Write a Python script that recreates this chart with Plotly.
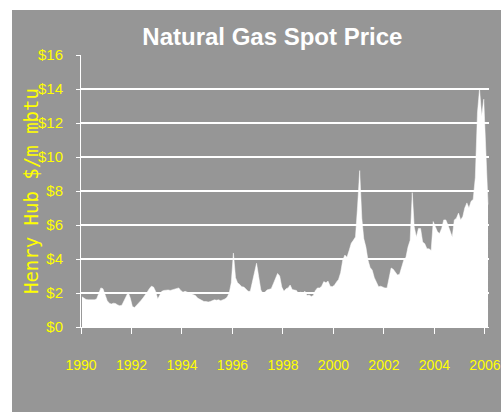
import plotly.graph_objects as go

# Monthly Henry Hub spot price ($/mmbtu), Jan 1990 - Feb 2006
p1990 = [1.78, 1.70, 1.62, 1.60, 1.60, 1.62, 1.60, 1.65, 1.95, 2.30, 2.25, 1.90]
p1991 = [1.55, 1.40, 1.35, 1.40, 1.38, 1.30, 1.25, 1.28, 1.55, 1.85, 2.05, 1.70]
p1992 = [1.20, 1.15, 1.30, 1.40, 1.55, 1.70, 1.85, 2.05, 2.25, 2.40, 2.35, 2.10]
p1993 = [1.65, 1.85, 2.10, 2.15, 2.18, 2.18, 2.15, 2.18, 2.20, 2.25, 2.30, 2.15]
p1994 = [2.05, 2.10, 2.05, 2.00, 1.95, 1.90, 1.85, 1.70, 1.62, 1.55, 1.50, 1.50]
p1995 = [1.47, 1.50, 1.55, 1.60, 1.58, 1.60, 1.55, 1.60, 1.65, 1.75, 2.00, 2.60]
p1996 = [4.35, 2.90, 2.60, 2.50, 2.37, 2.35, 2.20, 2.10, 2.10, 2.60, 3.30, 3.75]
p1997 = [2.96, 2.18, 2.00, 2.05, 2.18, 2.20, 2.25, 2.55, 2.90, 3.15, 3.00, 2.35]
p1998 = [2.10, 2.25, 2.30, 2.47, 2.20, 2.18, 2.15, 1.95, 2.05, 2.00, 2.10, 1.85]
p1999 = [1.88, 1.80, 1.85, 2.15, 2.30, 2.30, 2.40, 2.67, 2.60, 2.70, 2.40, 2.37]
p2000 = [2.45, 2.65, 2.80, 3.20, 3.94, 4.23, 4.10, 4.50, 4.93, 5.10, 5.30, 7.07]
p2001 = [9.20, 6.40, 5.20, 4.70, 3.94, 3.50, 3.35, 2.90, 2.60, 2.37, 2.40, 2.35]
p2002 = [2.30, 2.30, 2.90, 3.47, 3.40, 3.20, 3.06, 3.10, 3.50, 3.94, 4.10, 4.70]
p2003 = [5.10, 7.90, 5.90, 5.30, 5.80, 5.80, 5.00, 4.90, 4.60, 4.60, 4.50, 6.20]
p2004 = [5.90, 5.60, 5.50, 5.80, 6.30, 6.30, 6.00, 5.60, 5.30, 6.30, 6.40, 6.70]
p2005 = [6.30, 6.50, 7.00, 7.30, 7.00, 7.40, 7.50, 8.80, 12.60, 14.00, 12.40, 13.40]
p2006 = [10.00, 7.20]

years = list(range(1990, 2007))
yearly = [p1990, p1991, p1992, p1993, p1994, p1995, p1996, p1997, p1998,
          p1999, p2000, p2001, p2002, p2003, p2004, p2005, p2006]

dates, prices = [], []
for yr, vals in zip(years, yearly):
    for m, v in enumerate(vals, start=1):
        dates.append(f"{yr}-{m:02d}-15")
        prices.append(v)

y_ticks = list(range(0, 17, 2))
y_labels = [f"${v}" for v in y_ticks]
x_ticks = [f"{y}-01-01" for y in range(1990, 2007, 2)]
x_labels = [str(y) for y in range(1990, 2007, 2)]

GRAY = "#969696"
YELLOW = "#FFFF00"
SANS = "Liberation Sans, Arial, sans-serif"

fig = go.Figure()
fig.add_trace(go.Scatter(
    x=dates, y=prices, mode="lines", fill="tozeroy",
    line=dict(color="white", width=0.5), fillcolor="white",
    hoverinfo="x+y", showlegend=False,
))

fig.update_layout(
    width=501, height=412,
    margin=dict(l=81, r=12, t=55, b=85, autoexpand=False),
    paper_bgcolor="white",
    plot_bgcolor="rgba(0,0,0,0)",
    title=dict(text="<b>Natural Gas Spot Price</b>", x=0.469, xref="paper",
               xanchor="center", y=1 - 37 / 412, yanchor="middle",
               font=dict(family=SANS, size=24, color="white")),
    shapes=[dict(type="rect", xref="paper", yref="paper",
                 x0=-0.1691, x1=1.1, y0=-0.4, y1=1.1654,
                 fillcolor=GRAY, line=dict(width=0), layer="below")],
    annotations=[dict(text="Henry Hub $/m mbtu", textangle=-90,
                      xref="paper", yref="paper", x=-0.1225, y=0.5,
                      xanchor="center", yanchor="middle", showarrow=False,
                      font=dict(family="DejaVu Sans Mono", size=19, color=YELLOW))],
    xaxis=dict(
        type="date", range=["1990-01-01", "2006-03-01"],
        tickvals=x_ticks, ticktext=x_labels,
        showgrid=False, zeroline=False, automargin=False,
        showline=True, linecolor="white", linewidth=1,
        ticks="outside", ticklen=6, tickcolor="white", tickwidth=1,
        ticklabelstandoff=19, ticklabeloverflow="allow",
        tickfont=dict(family=SANS, size=14, color=YELLOW),
    ),
    yaxis=dict(
        range=[0, 16], tickvals=y_ticks, ticktext=y_labels,
        showgrid=True, gridcolor="white", gridwidth=2,
        zeroline=False, showline=True, linecolor="white", linewidth=1,
        automargin=False,
        ticks="outside", ticklen=4, tickcolor="white", tickwidth=1,
        ticklabelstandoff=10,
        tickfont=dict(family=SANS, size=15, color=YELLOW),
    ),
)

fig.write_html("out.html", config={"displayModeBar": False},
               post_script="document.body.style.margin='0';document.body.style.overflow='hidden';")
